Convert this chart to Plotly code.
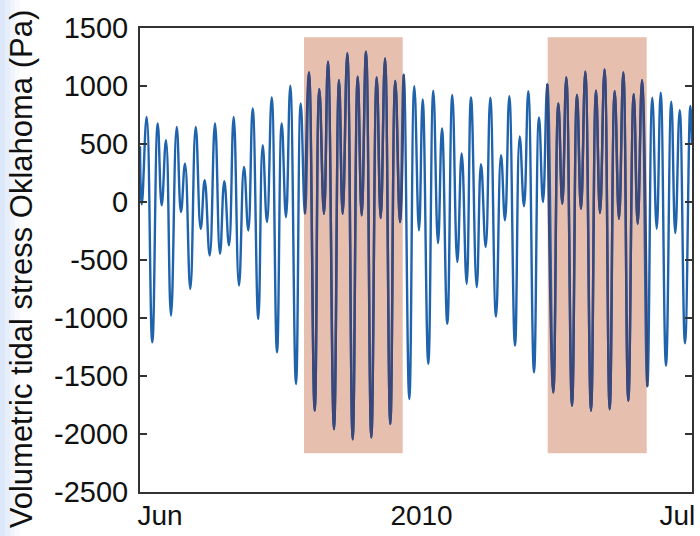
import pandas as pd
import plotly.graph_objects as go

# ---- data: turning points of the volumetric tidal stress (days since 2010-06-01, Pa)
days = [0.000, 0.098, 0.364, 0.668, 0.962, 1.179, 1.413, 1.685, 1.995, 2.228,
        2.446, 2.734, 3.027, 3.299, 3.516, 3.788, 4.076, 4.348, 4.582, 4.837,
        5.092, 5.380, 5.652, 5.886, 6.125, 6.429, 6.668, 6.902, 7.158, 7.446,
        7.701, 7.935, 8.168, 8.478, 8.734, 8.967, 9.185, 9.495, 9.745, 10.000,
        10.217, 10.543, 10.815, 11.016, 11.266, 11.560, 11.832, 12.049, 12.283, 12.571,
        12.864, 13.082, 13.315, 13.603, 13.875, 14.130, 14.332, 14.636, 14.908, 15.163,
        15.364, 15.668, 15.940, 16.196, 16.413, 16.701, 16.973, 17.245, 17.484, 17.755,
        17.989, 18.299, 18.533, 18.788, 19.038, 19.348, 19.620, 19.837, 20.071, 20.380,
        20.636, 20.870, 21.103, 21.413, 21.685, 21.902, 22.136, 22.462, 22.734, 22.951,
        23.168, 23.478, 23.750, 23.967, 24.201, 24.511, 24.783, 25.000, 25.245, 25.527,
        25.799, 26.033, 26.266, 26.538, 26.832, 27.049, 27.283, 27.571, 27.842, 28.082,
        28.299, 28.587, 28.875, 29.092, 29.332, 29.620, 29.908, 30.000]
stress = [480, -20, 734, -1210, 677, -29, 533, -979, 648, -86,
          331, -749, 648, -230, 187, -461, 677, -446, 179, -374,
          734, -720, 302, -245, 806, -1008, 490, -173, 901, -1296,
          677, -130, 1002, -1570, 850, -101, 1117, -1800, 973, -101,
          1210, -1958, 1051, -101, 1282, -2045, 1080, -115, 1296, -2030,
          1074, -138, 1238, -1915, 1043, -173, 1100, -1699, 999, -245,
          884, -1397, 959, -354, 634, -1051, 922, -518, 418, -706,
          901, -734, 325, -389, 899, -988, 403, -158, 913, -1238,
          565, -37, 956, -1469, 729, 0, 1017, -1642, 850, -14,
          1074, -1757, 922, -58, 1123, -1800, 959, -95, 1143, -1786,
          956, -144, 1117, -1714, 930, -187, 1051, -1590, 899, -230,
          942, -1411, 864, -268, 792, -1218, 827, 500]

# highlighted windows (days since 2010-06-01) and their vertical extent (Pa)
win_start = [8.913, 22.158]
win_end = [14.277, 27.538]
win_low = -2165
win_high = 1420

tick_days = [1.09, 15.3, 29.2]
tick_text = ["Jun", "2010", "Jul"]
y_ticks = [1500, 1000, 500, 0, -500, -1000, -1500, -2000, -2500]
y_tick_text = ["1500", "1000", "500", "0", "-500", "-1000", "-1500", "-2000", "-2500"]

base = pd.Timestamp("2010-06-01")
to_time = lambda d: base + pd.to_timedelta(d, unit="D")
t = [to_time(d) for d in days]

# dark overlay segments inside the windows
ov_x, ov_y = [], []
for s, e in zip(win_start, win_end):
    for d, v in zip(days, stress):
        if s - 0.06 <= d <= e + 0.06:
            ov_x.append(to_time(d))
            ov_y.append(v)
    ov_x.append(None)
    ov_y.append(None)

fig = go.Figure()
fig.add_trace(go.Scatter(x=t, y=stress, mode="lines",
                         line=dict(color="#2063ad", width=2.4, shape="spline", smoothing=1.3),
                         hoverinfo="skip", showlegend=False))
fig.add_trace(go.Scatter(x=ov_x, y=ov_y, mode="lines", connectgaps=False,
                         line=dict(color="#3b4778", width=2.4, shape="spline", smoothing=1.3),
                         hoverinfo="skip", showlegend=False))

for s, e in zip(win_start, win_end):
    fig.add_shape(type="rect", xref="x", yref="y", x0=to_time(s), x1=to_time(e),
                  y0=win_low, y1=win_high, fillcolor="#e6bfae", line=dict(width=0),
                  layer="below")

# light-blue page edge on the left
W = 552.0
H = 464.0
for i, c in enumerate(["#dce7f9", "#e6eefb", "#f0f5fd", "#f8fafe"]):
    fig.add_shape(type="rect", xref="paper", yref="paper",
                  x0=(-140 + i * 5) / W, x1=(-140 + (i + 1) * 5) / W,
                  y0=-44 / H, y1=1 + 28 / H,
                  fillcolor=c, line=dict(width=0), layer="below")

fig.add_annotation(text="Volumetric tidal stress Oklahoma (Pa)", textangle=-90,
                   xref="paper", yref="paper", x=(21 - 140) / W, y=0.48,
                   xanchor="center", yanchor="middle", showarrow=False,
                   font=dict(family="Liberation Sans, Arial", size=31, color="#111111"))

fig.update_layout(
    width=700, height=536,
    margin=dict(l=140, r=8, t=28, b=44, autoexpand=False),
    paper_bgcolor="white", plot_bgcolor="white",
    font=dict(family="Liberation Sans, Arial", color="#111111"),
    xaxis=dict(range=[to_time(0), to_time(30)], tickvals=[to_time(d) for d in tick_days],
               ticktext=tick_text, ticks="", showgrid=False, zeroline=False,
               showline=True, linecolor="#333333", linewidth=2, mirror=True,
               automargin=False, ticklabelstandoff=-3,
               tickfont=dict(size=28, color="#111111")),
    yaxis=dict(range=[-2500, 1500], tickvals=y_ticks, ticktext=y_tick_text,
               ticks="inside", ticklen=7, automargin=False,
               tickwidth=2, tickcolor="#333333", showgrid=False, zeroline=False,
               showline=True, linecolor="#333333", linewidth=2, mirror="ticks",
               tickfont=dict(size=29, color="#111111"), ticklabelstandoff=4),
)

fig.write_html("out.html")
